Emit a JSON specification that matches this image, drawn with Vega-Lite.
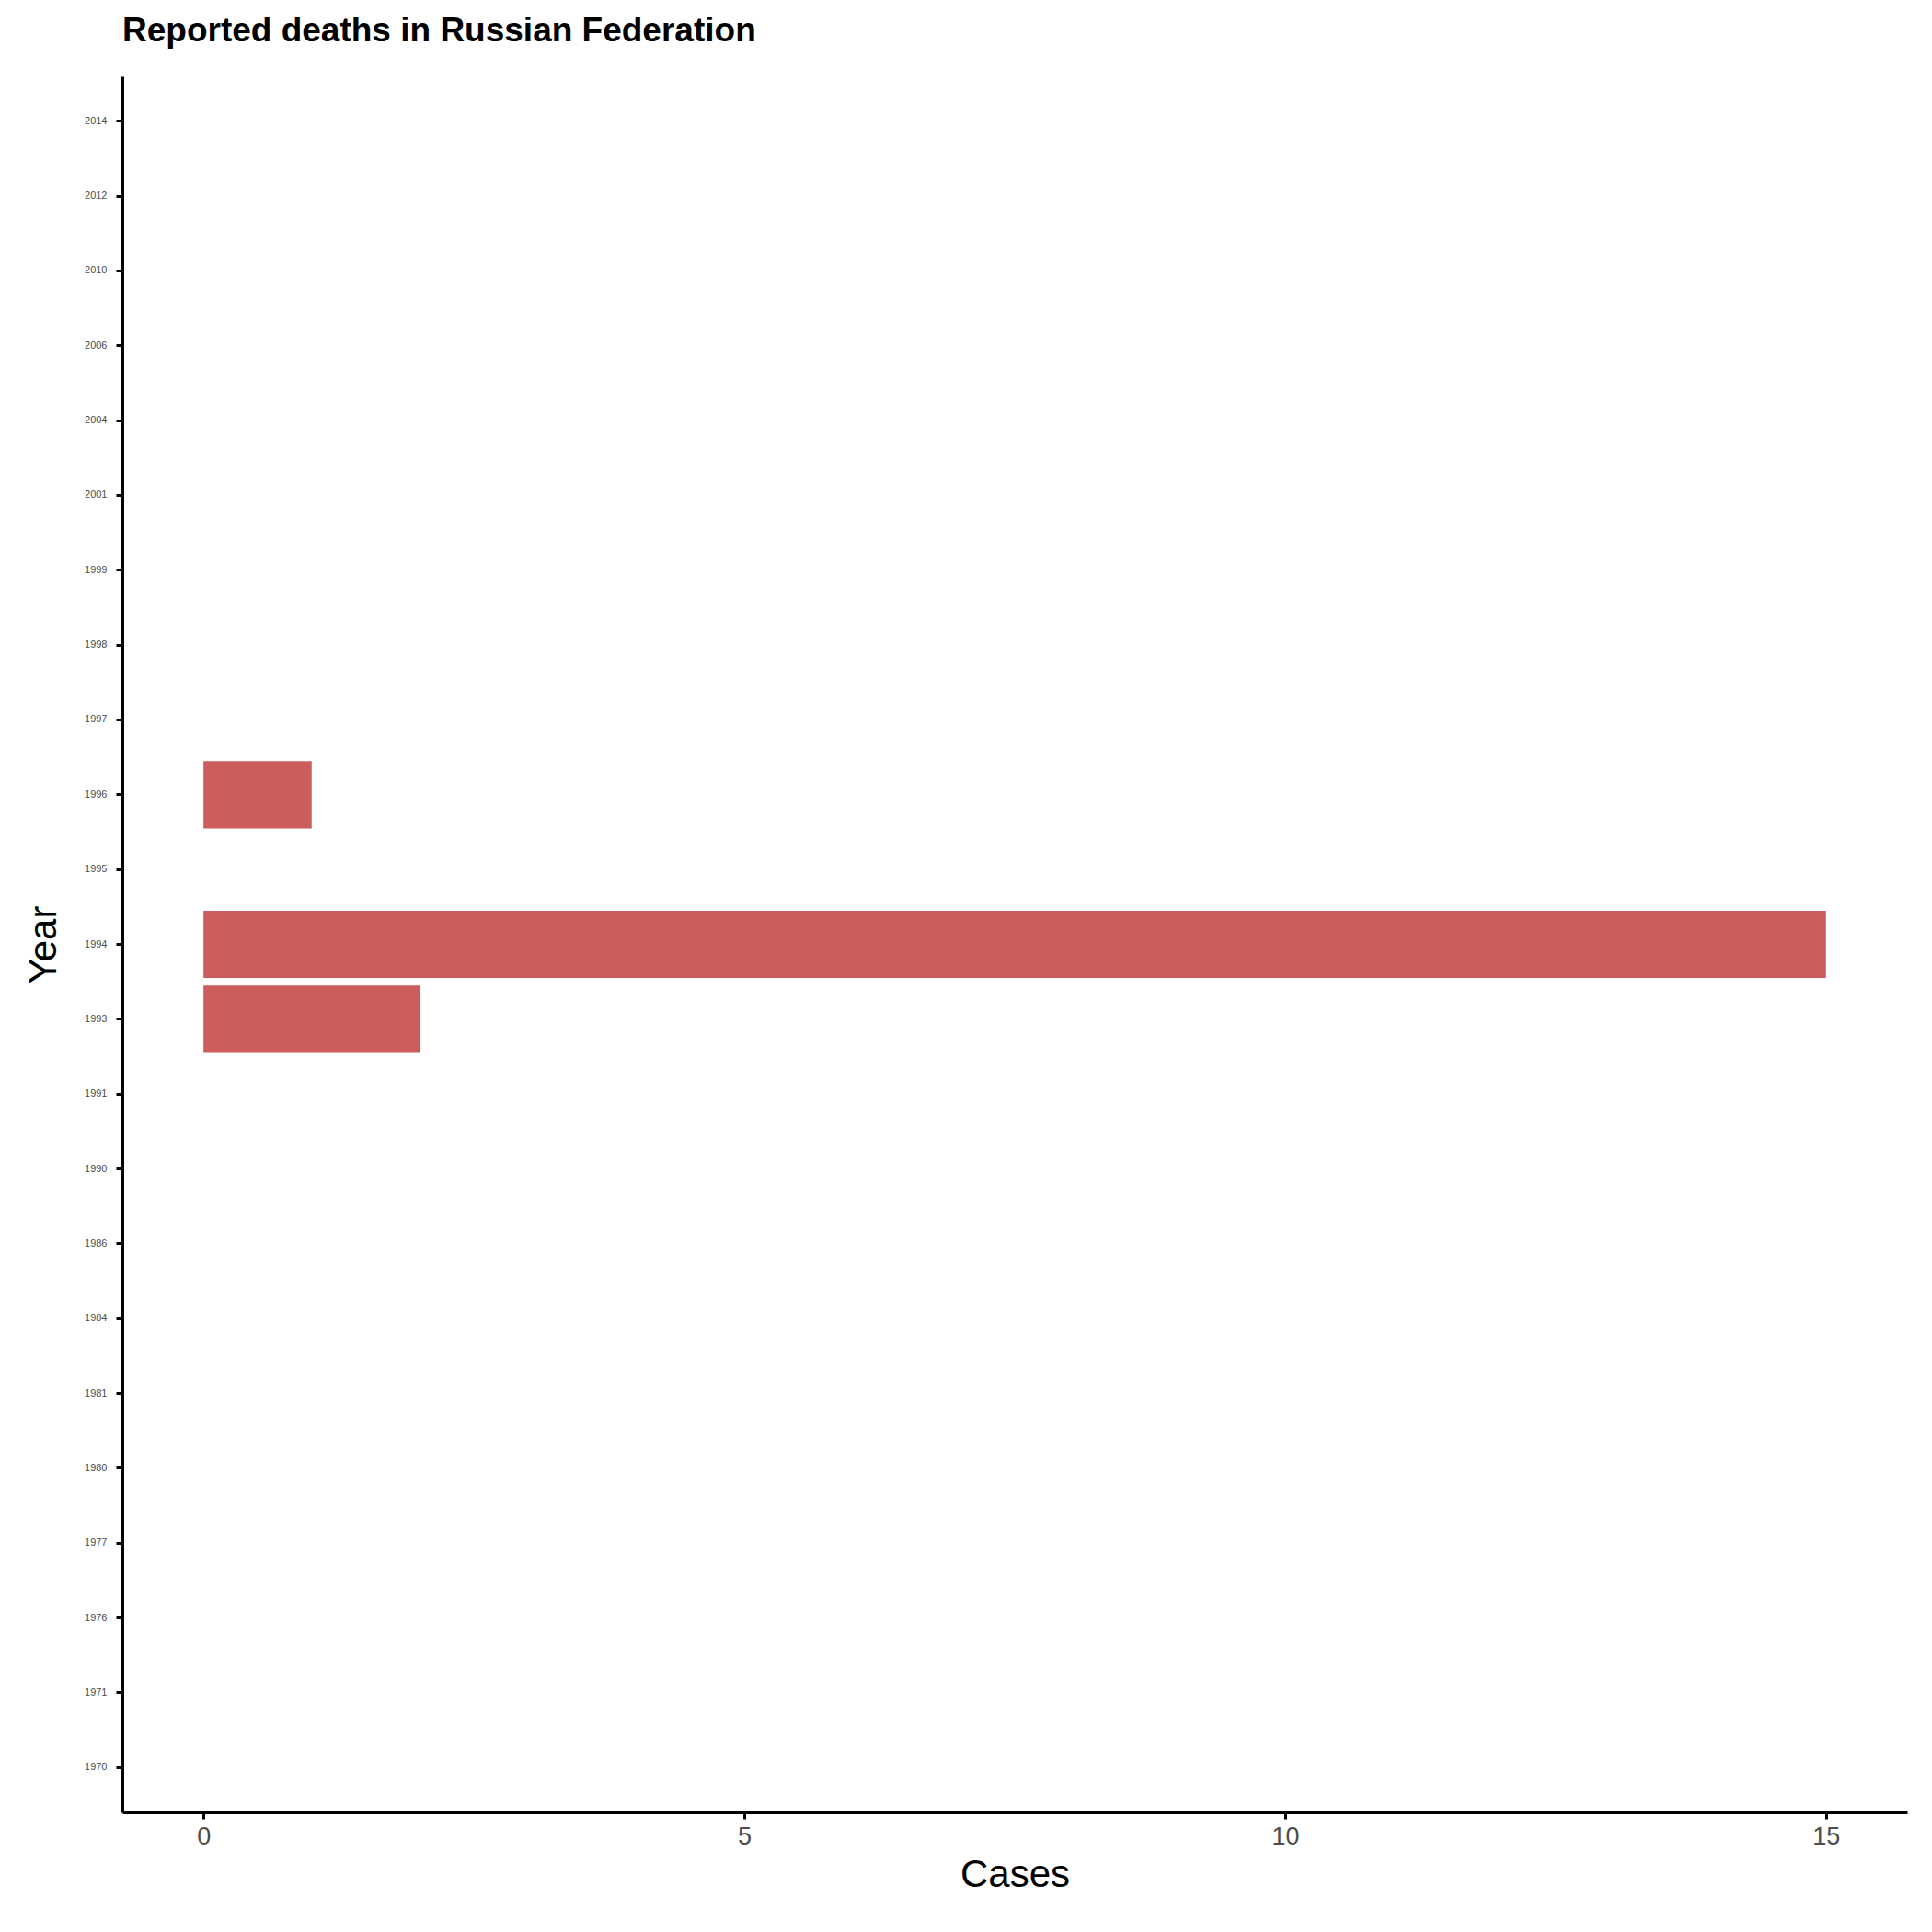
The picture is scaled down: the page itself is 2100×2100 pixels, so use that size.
{
  "$schema": "https://vega.github.io/schema/vega-lite/v6.json",
  "width": 1940,
  "height": 1887,
  "autosize": "none",
  "padding": {"left": 133, "top": 83, "right": 27, "bottom": 130},
  "background": "white",
  "title": {
    "text": "Reported deaths in Russian Federation",
    "anchor": "start",
    "frame": "group",
    "font": "Liberation Sans",
    "fontSize": 37,
    "fontWeight": "bold",
    "color": "black",
    "offset": 30
  },
  "config": {
    "view": {"stroke": null},
    "axis": {"grid": false, "domainColor": "black", "domainWidth": 3, "tickColor": "black", "tickWidth": 3, "tickSize": 7, "labelFont": "Liberation Sans", "titleFont": "Liberation Sans", "titleFontWeight": "normal", "titleColor": "black"}
  },
  "data": {
    "values": [
      {"Year": "1970", "Cases": 0}, {"Year": "1971", "Cases": 0}, {"Year": "1976", "Cases": 0},
      {"Year": "1977", "Cases": 0}, {"Year": "1980", "Cases": 0}, {"Year": "1981", "Cases": 0},
      {"Year": "1984", "Cases": 0}, {"Year": "1986", "Cases": 0}, {"Year": "1990", "Cases": 0},
      {"Year": "1991", "Cases": 0}, {"Year": "1993", "Cases": 2}, {"Year": "1994", "Cases": 15},
      {"Year": "1995", "Cases": 0}, {"Year": "1996", "Cases": 1}, {"Year": "1997", "Cases": 0},
      {"Year": "1998", "Cases": 0}, {"Year": "1999", "Cases": 0}, {"Year": "2001", "Cases": 0},
      {"Year": "2004", "Cases": 0}, {"Year": "2006", "Cases": 0}, {"Year": "2010", "Cases": 0},
      {"Year": "2012", "Cases": 0}, {"Year": "2014", "Cases": 0}
    ]
  },
  "mark": {"type": "bar", "color": "#CD5C5C"},
  "encoding": {
    "y": {
      "field": "Year", "type": "ordinal", "sort": "descending",
      "scale": {"paddingInner": 0.1, "paddingOuter": 0.15},
      "axis": {"title": "Year", "titleFontSize": 42, "titlePadding": 22, "labelFontSize": 11, "labelColor": "#4d4d4d", "labelPadding": 10}
    },
    "x": {
      "field": "Cases", "type": "quantitative",
      "scale": {"domain": [-0.75, 15.75], "nice": false, "zero": false},
      "axis": {"title": "Cases", "values": [0, 5, 10, 15], "titleFontSize": 42, "titlePadding": 8, "labelFontSize": 27, "labelColor": "#4d4d4d", "labelPadding": 6}
    }
  }
}
